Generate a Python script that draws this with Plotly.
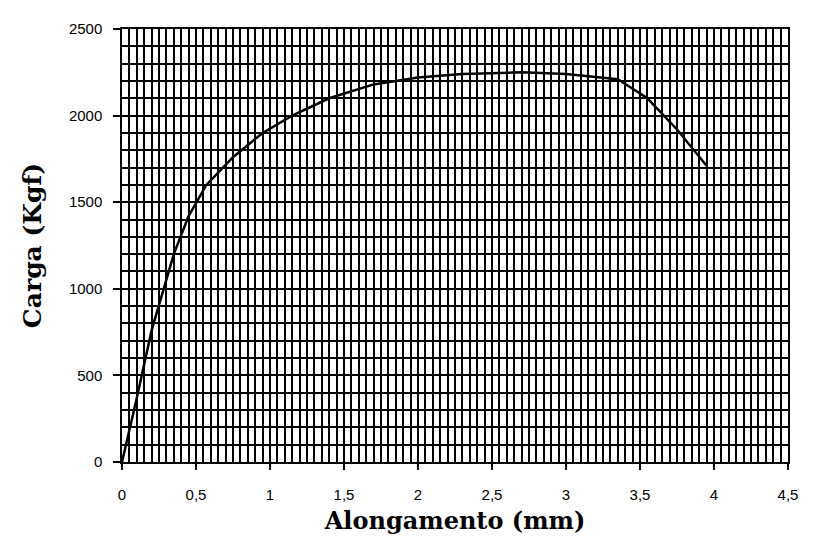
import plotly.graph_objects as go

alongamento = [0, 0.1, 0.2, 0.35, 0.45, 0.57, 0.75, 0.95, 1.15, 1.4, 1.7, 2.0, 2.3, 2.7, 3.0, 3.35, 3.55, 3.75, 3.95]
carga = [0, 370, 760, 1200, 1420, 1600, 1760, 1900, 2000, 2100, 2180, 2220, 2240, 2250, 2240, 2210, 2100, 1920, 1710]

x_ticks = [0, 0.5, 1, 1.5, 2, 2.5, 3, 3.5, 4, 4.5]
x_labels = ["0", "0,5", "1", "1,5", "2", "2,5", "3", "3,5", "4", "4,5"]
y_ticks = [0, 500, 1000, 1500, 2000, 2500]
y_labels = ["0", "500", "1000", "1500", "2000", "2500"]

fig = go.Figure()
fig.add_trace(go.Scatter(x=alongamento, y=carga, mode="lines",
                         line=dict(color="black", width=2.5), showlegend=False))

tick_font = dict(family="Liberation Sans, Arial, sans-serif", size=15, color="black")
xtitle_font = dict(family="DejaVu Serif, serif", size=24, color="black", weight="bold")
ytitle_font = dict(family="DejaVu Serif, serif", size=25, color="black", weight="bold")

fig.update_layout(
    width=817, height=553,
    margin=dict(l=114, r=37, t=12, b=99),
    paper_bgcolor="white", plot_bgcolor="white",
    separators=",.",
)
fig.update_xaxes(
    range=[0, 4.5], tickvals=x_ticks, ticktext=x_labels,
    showline=True, linecolor="black", linewidth=1.5, mirror=True,
    ticks="outside", ticklen=6, tickcolor="black", tickwidth=1.5,
    showgrid=True, gridcolor="black", gridwidth=1.5,
    minor=dict(dtick=0.05, tick0=0, showgrid=True, gridcolor="black", gridwidth=1.5, ticks=""),
    tickfont=tick_font, ticklabelstandoff=12,
    title=dict(text="Alongamento (mm)", font=xtitle_font, standoff=10),
    zeroline=False,
)
fig.update_yaxes(
    range=[0, 2500], tickvals=y_ticks, ticktext=y_labels,
    showline=True, linecolor="black", linewidth=1.5, mirror=True,
    ticks="outside", ticklen=7, tickcolor="black", tickwidth=1.5,
    showgrid=True, gridcolor="black", gridwidth=1.5,
    minor=dict(dtick=100, tick0=0, showgrid=True, gridcolor="black", gridwidth=1.5, ticks=""),
    tickfont=tick_font, ticklabelstandoff=8,
    title=dict(text="Carga (Kgf)", font=ytitle_font, standoff=20),
    zeroline=False,
)

fig.write_html("out.html")
